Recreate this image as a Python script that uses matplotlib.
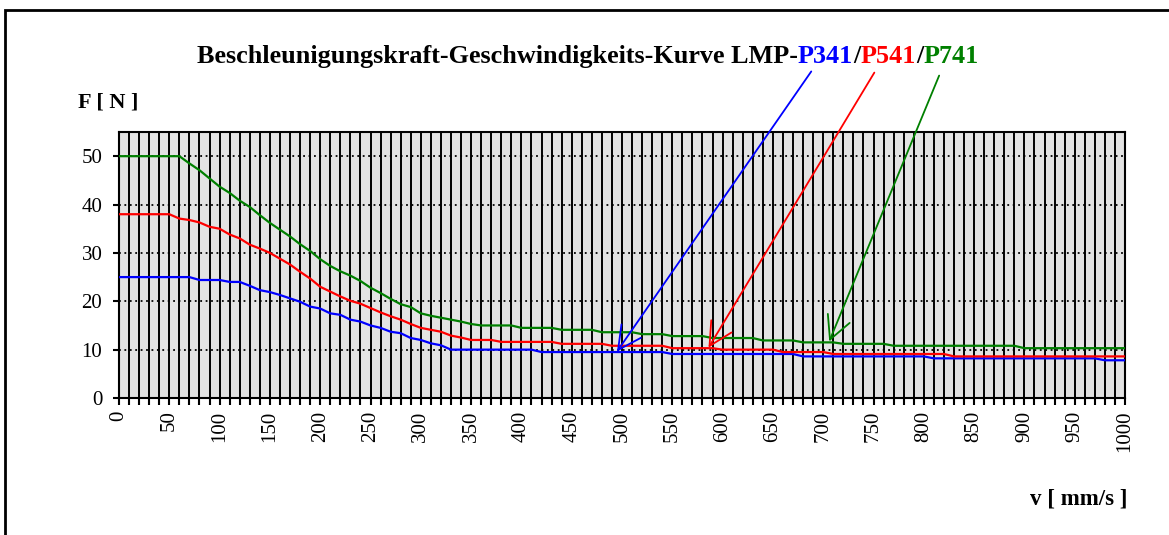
import numpy as np
import matplotlib
matplotlib.use('Agg')
import matplotlib.pyplot as plt
from matplotlib.patches import Rectangle

plt.rcParams['font.family'] = ['Liberation Serif', 'DejaVu Serif']

# speed v [mm/s], one reading every 10 mm/s
v = list(range(0, 1001, 10))

f_p341 = [25, 25, 25, 25, 25, 25, 25, 25, 24.4, 24.4,
          24.4, 24.0, 24.0, 23.2, 22.3, 21.9, 21.3, 20.6, 19.9, 18.9,
          18.5, 17.5, 17.2, 16.2, 15.8, 15.0, 14.5, 13.7, 13.4, 12.4,
          12.0, 11.3, 10.9, 10.0, 10.0, 10.0, 10.0, 10.0, 10.0, 10.0,
          10.0, 10.0, 9.5, 9.5, 9.5, 9.5, 9.5, 9.5, 9.5, 9.5,
          9.5, 9.5, 9.5, 9.5, 9.5, 9.1, 9.1, 9.1, 9.1, 9.1,
          9.1, 9.1, 9.1, 9.1, 9.1, 9.1, 9.1, 9.1, 8.6, 8.6,
          8.6, 8.6, 8.6, 8.6, 8.6, 8.6, 8.6, 8.6, 8.6, 8.6,
          8.6, 8.2, 8.2, 8.2, 8.2, 8.2, 8.2, 8.2, 8.2, 8.2,
          8.2, 8.2, 8.2, 8.2, 8.2, 8.2, 8.2, 8.2, 7.8, 7.8,
          7.8]

f_p541 = [38, 38, 38, 38, 38, 38, 37.1, 36.8, 36.3, 35.4,
          35.0, 33.8, 33.0, 31.7, 30.9, 30.0, 28.8, 27.6, 26.1, 24.7,
          23.0, 22.0, 21.0, 20.1, 19.5, 18.6, 17.7, 16.9, 16.2, 15.3,
          14.5, 14.1, 13.7, 12.9, 12.5, 12.0, 12.0, 12.0, 11.6, 11.6,
          11.6, 11.6, 11.6, 11.6, 11.2, 11.2, 11.2, 11.2, 11.2, 10.8,
          10.8, 10.8, 10.8, 10.8, 10.8, 10.3, 10.3, 10.3, 10.3, 10.3,
          10.0, 10.0, 10.0, 10.0, 10.0, 10.0, 9.5, 9.5, 9.5, 9.5,
          9.5, 9.1, 9.1, 9.1, 9.1, 9.1, 9.1, 9.1, 9.1, 9.1,
          9.1, 9.1, 9.1, 8.6, 8.6, 8.6, 8.6, 8.6, 8.6, 8.6,
          8.6, 8.6, 8.6, 8.6, 8.6, 8.6, 8.6, 8.6, 8.6, 8.6,
          8.6]

f_p741 = [50, 50, 50, 50, 50, 50, 50, 48.5, 47.1, 45.4,
          43.7, 42.4, 40.8, 39.5, 37.8, 36.2, 34.8, 33.4, 31.8, 30.4,
          28.7, 27.3, 26.2, 25.3, 24.2, 22.8, 21.7, 20.5, 19.4, 18.8,
          17.5, 17.0, 16.6, 16.2, 15.8, 15.3, 15.0, 15.0, 15.0, 15.0,
          14.5, 14.5, 14.5, 14.5, 14.1, 14.1, 14.1, 14.1, 13.6, 13.6,
          13.6, 13.6, 13.2, 13.2, 13.2, 12.8, 12.8, 12.8, 12.8, 12.4,
          12.4, 12.4, 12.4, 12.4, 11.9, 11.9, 11.9, 11.9, 11.5, 11.5,
          11.5, 11.5, 11.2, 11.2, 11.2, 11.2, 11.2, 10.8, 10.8, 10.8,
          10.8, 10.8, 10.8, 10.8, 10.8, 10.8, 10.8, 10.8, 10.8, 10.8,
          10.3, 10.3, 10.3, 10.3, 10.3, 10.3, 10.3, 10.3, 10.3, 10.3,
          10.3]

models = ['P341', 'P541', 'P741']
colors = ['#0000ff', '#ff0000', '#008000']
series = [f_p341, f_p541, f_p741]

# where the title arrows point to on each curve
arrow_v = [495, 586, 706]
arrow_f = [9.6, 10.4, 11.7]

W, H = 1169, 535
fig = plt.figure(figsize=(W/100, H/100), dpi=100)
ax = fig.add_axes([119/W, 137/H, 1006/W, 266/H])
ax.set_facecolor('#e3e3e3')

for ys, c in zip(series, colors):
    ax.plot(v, ys, color=c, lw=1.6, zorder=3)

xt = np.arange(0, 1001, 10)
ax.set_xticks(xt)
ax.set_xticklabels([str(t) if t % 50 == 0 else '' for t in xt], rotation=90, fontsize=15)
ax.set_yticks(range(0, 51, 10))
ax.set_yticklabels([str(t) for t in range(0, 51, 10)], fontsize=15)
ax.set_xlim(0, 1000); ax.set_ylim(0, 55)
ax.tick_params(axis='x', length=5, width=1.5, direction='out', pad=4)
ax.tick_params(axis='y', length=4, width=1.5, direction='out', pad=8)
ax.grid(axis='x', color='black', lw=1.4, ls='-', zorder=1)
ax.grid(axis='y', color='black', lw=1.3, ls=(0, (1, 2)), zorder=1)
ax.set_axisbelow(True)
for s in ax.spines.values():
    s.set_linewidth(1.5)

fig.text(78/W, 1 - 107/H, 'F [ N ]', fontsize=16, fontweight='bold', ha='left', va='baseline')
fig.text(1127/W, 1 - 505/H, 'v [ mm/s ]', fontsize=16.5, fontweight='bold', ha='right', va='baseline')

# multicoloured title
t = fig.text(197/W, 1 - 63/H, 'Beschleunigungskraft-Geschwindigkeits-Kurve LMP-',
             fontsize=18.8, fontweight='bold', ha='left', va='baseline')
label_txt = []
pieces = [(models[0], colors[0]), ('/', 'black'), (models[1], colors[1]),
          ('/', 'black'), (models[2], colors[2])]
for s, c in pieces:
    t = ax.annotate(s, xy=(1, 0), xycoords=t, ha='left', va='bottom',
                    fontsize=18.8, fontweight='bold', color=c)
    if s != '/':
        label_txt.append(t)

tail_off = [(0.24, -0.15), (0.25, -0.2), (0.29, -0.33)]
for lt, x, y, c, off in zip(label_txt, arrow_v, arrow_f, colors, tail_off):
    ax.annotate('', xy=(x, y), xycoords='data', xytext=off, textcoords=lt,
                annotation_clip=False,
                arrowprops=dict(arrowstyle='->,head_length=1.65,head_width=0.85',
                                color=c, lw=1.3, shrinkA=0, shrinkB=0))

fig.add_artist(Rectangle((5/W, -0.1), 1.2, 1.1 - 10/H, transform=fig.transFigure,
                         fill=False, ec='black', lw=2))

fig.savefig('out.png', dpi=100)
